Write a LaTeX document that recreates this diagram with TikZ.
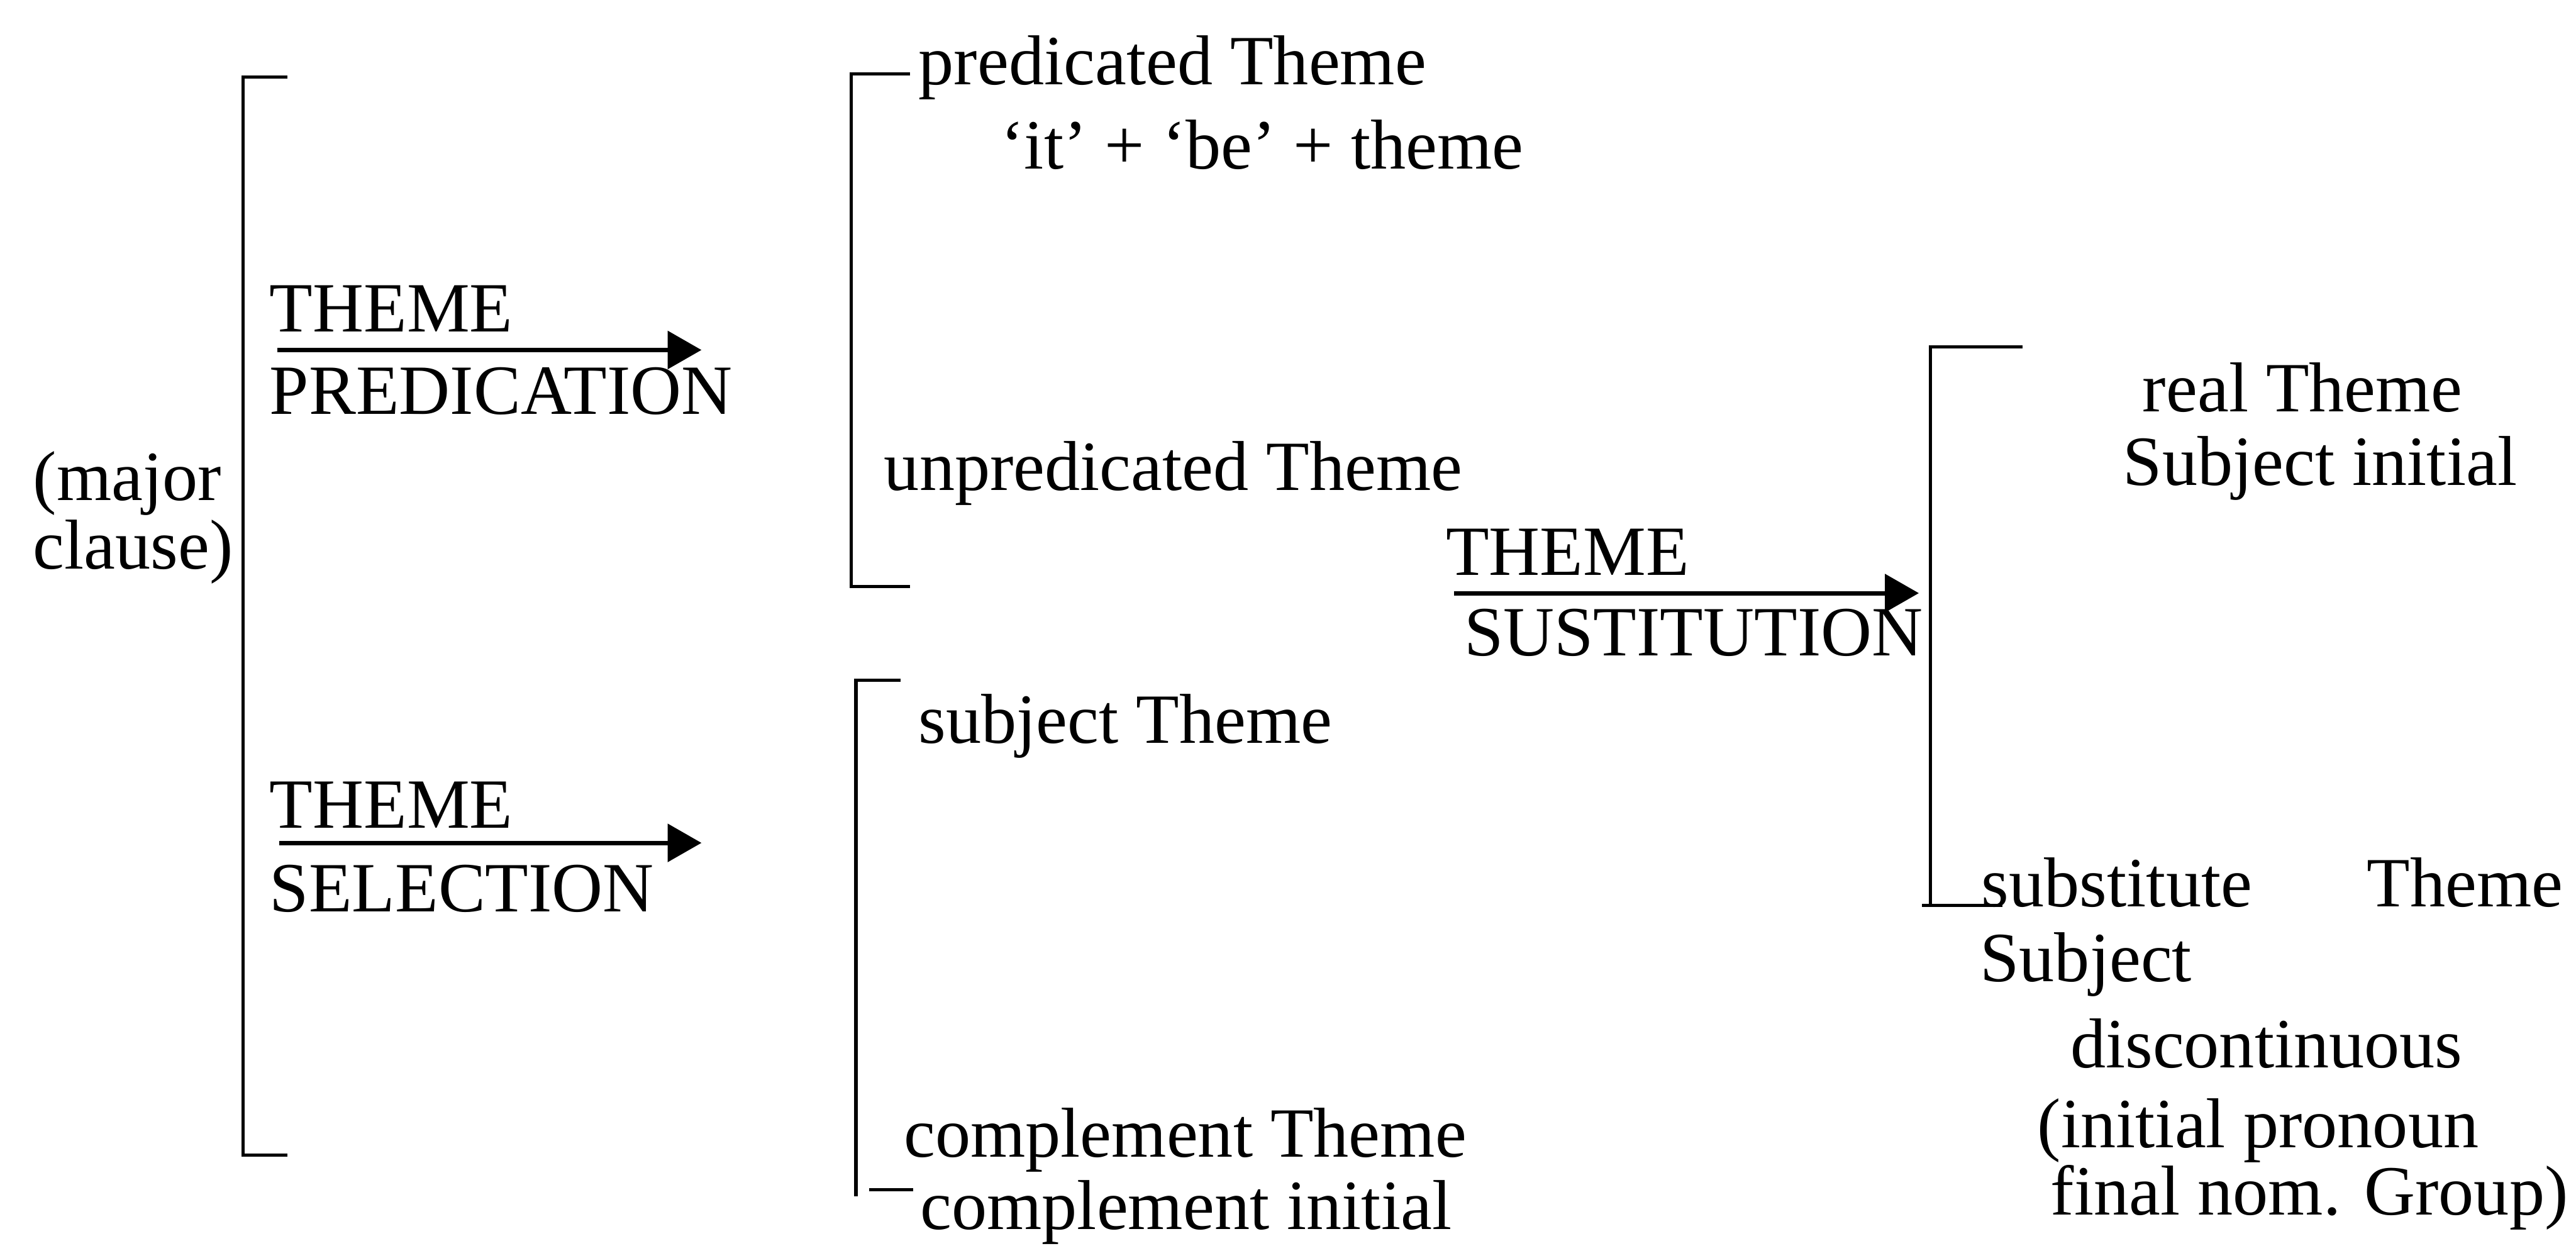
\documentclass[tikz,border=0pt]{standalone}
\usepackage{fontspec}
\setmainfont{Liberation Serif}
\usetikzlibrary{arrows.meta}

\begin{document}
\begin{tikzpicture}[
      x=0.0315cm,y=-0.0315cm,
      lbl/.style={anchor=west,inner sep=0pt,font=\fontsize{38.5}{46}\selectfont},
      brk/.style={line width=1.8pt},
      arrow/.style={-{Triangle[length=0.65cm,width=0.72cm]},line width=2.4pt}
    ]
      \useasboundingbox (0,0) rectangle (1568,758);

      % left column
      \node[lbl] (major) at (20,294) {(major};
      \node[lbl] (clause) at (20,336) {clause)};
      \draw[brk] (175,47) -- (148,47) -- (148,703) -- (175,703);

      \node[lbl] (themeA) at (164,188) {THEME};
      \node[lbl] (predic) at (164,238) {PREDICATION};
      \node[lbl] (themeB) at (164,490) {THEME};
      \node[lbl] (select) at (164,541) {SELECTION};
      \coordinate (pa) at (169,213);
      \coordinate (pb) at (427,213);
      \coordinate (sa) at (170,513);
      \coordinate (sb) at (427,513);
      \draw[arrow] (pa) -- (pb);
      \draw[arrow] (sa) -- (sb);

      % middle column
      \draw[brk] (554,45) -- (518,45) -- (518,357) -- (554,357);
      \node[lbl] (predT) at (559,41) {predicated Theme};
      \node[lbl] (itbe) at (609,88) {‘it’ + ‘be’ + theme};
      \node[lbl] (unpredT) at (538,288) {unpredicated Theme};

      \draw[brk] (548,414) -- (521,414) -- (521,728);
      \draw[brk] (529,724) -- (556,724);
      \node[lbl] (subjT) at (559,442) {subject Theme};
      \node[lbl] (complT) at (550,694) {complement Theme};
      \node[lbl] (complI) at (560,738) {complement initial};

      \node[lbl] (themeC) at (880,336) {THEME};
      \node[lbl] (sustit) at (891,385) {SUSTITUTION};
      \coordinate (ua) at (885,361);
      \coordinate (ub) at (1168,361);
      \draw[arrow] (ua) -- (ub);

      % right column
      \draw[brk] (1231,211) -- (1175,211) -- (1175,551);
      \draw[brk] (1170,551) -- (1219,551);
      \node[lbl] (realT) at (1304,236) {real Theme};
      \node[lbl] (subjI) at (1292,285) {Subject initial};
      \node[lbl] (substT) at (1206,537) {substitute\hspace{2.2cm}Theme};
      \node[lbl] (subj) at (1205,587) {Subject};
      \node[lbl] (discont) at (1260,635) {discontinuous};
      \node[lbl] (initp) at (1240,688) {(initial pronoun};
      \node[lbl] (finalg) at (1248,729) {final nom. Group)};
    \end{tikzpicture}
\end{document}
